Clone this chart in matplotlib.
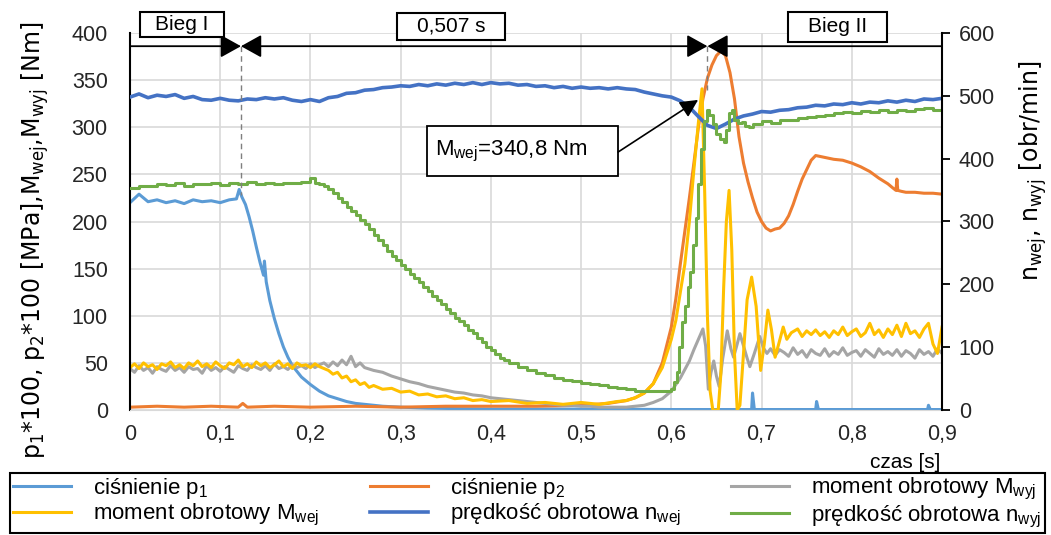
import numpy as np
import matplotlib
matplotlib.use('Agg')
import matplotlib.pyplot as plt
from matplotlib.patches import Rectangle

plt.rcParams['font.family'] = ['Liberation Sans', 'DejaVu Sans']
plt.rcParams['mathtext.default'] = 'regular'

# ---------------- data ----------------
x_ticks = [0, 0.1, 0.2, 0.3, 0.4, 0.5, 0.6, 0.7, 0.8, 0.9]
x_tick_labels = ['0', '0,1', '0,2', '0,3', '0,4', '0,5', '0,6', '0,7', '0,8', '0,9']
y_left_ticks = [0, 50, 100, 150, 200, 250, 300, 350, 400]
y_right_ticks = [0, 100, 200, 300, 400, 500, 600]

# p1*100 [MPa]
p1_t = [0, 0.01, 0.02, 0.03, 0.04, 0.05, 0.06, 0.07, 0.08, 0.09,
        0.10, 0.11, 0.118, 0.121, 0.124, 0.128, 0.132, 0.136, 0.14, 0.144,
        0.148, 0.149, 0.151, 0.155, 0.16, 0.165, 0.17, 0.175, 0.18, 0.19,
        0.20, 0.21, 0.22, 0.23, 0.24, 0.25, 0.26, 0.28, 0.30, 0.33,
        0.36, 0.40, 0.45, 0.50, 0.60, 0.689, 0.690, 0.692, 0.760, 0.761,
        0.763, 0.884, 0.885, 0.887, 0.90]
p1_v = [220, 229, 221, 223, 220, 222, 219, 223, 221, 222,
        220, 223, 224, 234, 226, 218, 205, 190, 173, 157,
        143, 158, 136, 116, 97, 81, 67, 56, 47, 35,
        27, 20, 15, 12, 9, 7, 6, 4, 3, 2,
        1.5, 1, 1, 1, 0.5, 0.5, 18, 0.5, 0.5, 9,
        0.5, 0.5, 5, 0.5, 0.5]

# p2*100 [MPa]
p2_t = [0, 0.03, 0.06, 0.09, 0.12, 0.125, 0.13, 0.16, 0.2, 0.25,
        0.3, 0.35, 0.4, 0.45, 0.5, 0.53, 0.55, 0.56, 0.57, 0.58,
        0.59, 0.60, 0.605, 0.61, 0.615, 0.62, 0.625, 0.63, 0.635, 0.64,
        0.645, 0.65, 0.655, 0.66, 0.665, 0.67, 0.675, 0.68, 0.685, 0.69,
        0.695, 0.70, 0.705, 0.71, 0.715, 0.72, 0.725, 0.73, 0.735, 0.74,
        0.745, 0.75, 0.755, 0.76, 0.765, 0.77, 0.78, 0.79, 0.80, 0.81,
        0.82, 0.83, 0.84, 0.845, 0.849, 0.850, 0.851, 0.855, 0.86, 0.87,
        0.88, 0.89, 0.90]
p2_v = [3, 4, 3, 4, 3, 7, 3, 4, 3, 4,
        3, 4, 4, 4, 5, 7, 10, 13, 18, 28,
        50, 88, 118, 155, 190, 225, 262, 300, 330, 352,
        366, 376, 381, 376, 358, 330, 290, 262, 242, 225,
        210, 200, 193, 190, 192, 193, 198, 206, 218, 232,
        245, 255, 265, 270, 269, 268, 266, 265, 262, 258,
        253, 246, 240, 236, 233, 245, 233, 232, 231, 231,
        230, 230, 229]

# M_wyj [Nm]
mwyj_t = [0.000, 0.005, 0.010, 0.015, 0.020, 0.025, 0.030, 0.035, 0.040, 0.045,
          0.050, 0.055, 0.060, 0.065, 0.070, 0.075, 0.080, 0.085, 0.090, 0.095,
          0.100, 0.105, 0.110, 0.115, 0.120, 0.125, 0.130, 0.135, 0.140, 0.145,
          0.150, 0.155, 0.160, 0.165, 0.170, 0.175, 0.180, 0.185, 0.190, 0.195,
          0.200, 0.205, 0.210, 0.215, 0.220, 0.225, 0.230, 0.235, 0.240, 0.245,
          0.250, 0.255, 0.260, 0.270, 0.280, 0.290, 0.300, 0.310, 0.320, 0.330,
          0.340, 0.350, 0.360, 0.370, 0.380, 0.390, 0.400, 0.410, 0.420, 0.430,
          0.440, 0.450, 0.460, 0.470, 0.480, 0.490, 0.500, 0.510, 0.520, 0.530,
          0.540, 0.550, 0.560, 0.570, 0.580, 0.590, 0.600, 0.610, 0.620, 0.625,
          0.630, 0.635, 0.638, 0.641, 0.644, 0.647, 0.650, 0.653, 0.657, 0.662,
          0.666, 0.669, 0.673, 0.676, 0.680, 0.684, 0.687, 0.692, 0.698, 0.702,
          0.706, 0.710, 0.715, 0.720, 0.725, 0.730, 0.735, 0.740, 0.745, 0.750,
          0.755, 0.760, 0.765, 0.770, 0.775, 0.780, 0.785, 0.790, 0.795, 0.800,
          0.805, 0.810, 0.815, 0.820, 0.825, 0.830, 0.835, 0.840, 0.845, 0.850,
          0.855, 0.860, 0.865, 0.870, 0.875, 0.880, 0.885, 0.890, 0.895, 0.900]
mwyj_v = [44, 40, 47, 42, 45, 39, 46, 43, 41, 47,
          42, 45, 40, 46, 43, 44, 39, 47, 42, 45,
          41, 46, 43, 40, 47, 44, 42, 48, 45, 43,
          47, 42, 49, 44, 46, 43, 48, 45, 47, 44,
          49, 45, 48, 50, 46, 51, 47, 53, 48, 57,
          46, 50, 45, 42, 40, 36, 33, 30, 28, 25,
          23, 21, 19, 18, 16, 15, 13, 12, 11, 10,
          9, 8, 7, 6, 5, 5, 4, 4, 3, 3,
          3, 3, 4, 5, 8, 12, 20, 34, 52, 64,
          75, 86, 68, 22, 40, 52, 36, 25, 55, 84,
          65, 56, 70, 81, 68, 55, 46, 60, 78, 66,
          60, 65, 58, 64, 61, 57, 66, 59, 63, 56,
          64, 60, 58, 65, 57, 62, 59, 66, 58, 61,
          63, 57, 64, 60, 56, 65, 59, 62, 58, 64,
          57, 63, 60, 55, 64, 59, 62, 57, 65, 60]

# M_wej [Nm]
mwej_t = [0.000, 0.005, 0.010, 0.015, 0.020, 0.025, 0.030, 0.035, 0.040, 0.045,
          0.050, 0.055, 0.060, 0.065, 0.070, 0.075, 0.080, 0.085, 0.090, 0.095,
          0.100, 0.105, 0.110, 0.115, 0.120, 0.125, 0.130, 0.135, 0.140, 0.145,
          0.150, 0.155, 0.160, 0.165, 0.170, 0.175, 0.180, 0.185, 0.190, 0.195,
          0.200, 0.205, 0.210, 0.215, 0.220, 0.225, 0.230, 0.235, 0.240, 0.245,
          0.250, 0.255, 0.260, 0.265, 0.270, 0.280, 0.290, 0.300, 0.310, 0.320,
          0.330, 0.340, 0.350, 0.360, 0.370, 0.380, 0.390, 0.400, 0.420, 0.440,
          0.460, 0.480, 0.500, 0.520, 0.540, 0.550, 0.560, 0.570, 0.580, 0.590,
          0.600, 0.605, 0.610, 0.615, 0.620, 0.625, 0.630, 0.634, 0.637, 0.640,
          0.643, 0.646, 0.652, 0.655, 0.658, 0.661, 0.664, 0.667, 0.670, 0.673,
          0.676, 0.680, 0.684, 0.689, 0.694, 0.699, 0.703, 0.707, 0.711, 0.715,
          0.719, 0.724, 0.728, 0.733, 0.740, 0.745, 0.750, 0.755, 0.760, 0.765,
          0.770, 0.775, 0.780, 0.785, 0.790, 0.795, 0.800, 0.805, 0.810, 0.815,
          0.820, 0.825, 0.830, 0.835, 0.840, 0.845, 0.850, 0.855, 0.860, 0.865,
          0.870, 0.875, 0.880, 0.885, 0.890, 0.895, 0.900]
mwej_v = [45, 49, 44, 50, 46, 48, 43, 49, 47, 51,
          45, 48, 44, 50, 47, 52, 46, 49, 45, 51,
          47, 44, 50, 48, 53, 46, 49, 45, 51, 47,
          50, 45, 48, 52, 46, 49, 44, 50, 47, 48,
          45, 49, 46, 44, 42, 38, 40, 34, 36, 30,
          32, 27, 29, 24, 26, 22, 23, 19, 20, 16,
          17, 14, 15, 12, 13, 10, 11, 9, 10, 7,
          8, 6, 8, 6, 9, 10, 13, 18, 28, 45,
          75, 95, 125, 155, 200, 255, 305, 340.8, 230, 100,
          20, 0, 0, 40, 130, 200, 233, 170, 60, 0,
          5, 60, 117, 141, 110, 42, 70, 106, 85, 56,
          70, 88, 75, 82, 86, 78, 84, 80, 85, 79,
          83, 77, 84, 80, 88, 79, 83, 86, 78, 82,
          92, 80, 85, 77, 86, 80, 90, 78, 92, 81,
          84, 77, 86, 92, 70, 60, 88]

# n_wej [obr/min]
nwej_t = [0.00, 0.01, 0.02, 0.03, 0.04, 0.05, 0.06, 0.07, 0.08, 0.09,
          0.10, 0.11, 0.12, 0.13, 0.14, 0.15, 0.16, 0.17, 0.18, 0.19,
          0.20, 0.21, 0.22, 0.23, 0.24, 0.25, 0.26, 0.27, 0.28, 0.29,
          0.30, 0.31, 0.32, 0.33, 0.34, 0.35, 0.36, 0.37, 0.38, 0.39,
          0.40, 0.41, 0.42, 0.43, 0.44, 0.45, 0.46, 0.47, 0.48, 0.49,
          0.50, 0.51, 0.52, 0.53, 0.54, 0.55, 0.56, 0.57, 0.58, 0.59,
          0.60, 0.61, 0.62, 0.63, 0.64, 0.65, 0.66, 0.67, 0.68, 0.69,
          0.70, 0.71, 0.72, 0.73, 0.74, 0.75, 0.76, 0.77, 0.78, 0.79,
          0.80, 0.81, 0.82, 0.83, 0.84, 0.85, 0.86, 0.87, 0.88, 0.89,
          0.90]
nwej_v = [498, 503, 497, 501, 499, 502, 496, 499, 494, 493,
          496, 493, 492, 495, 494, 497, 495, 497, 493, 491,
          494, 491, 497, 499, 504, 505, 509, 510, 513, 514,
          516, 515, 518, 516, 519, 517, 520, 518, 521, 518,
          521, 519, 520, 517, 518, 515, 516, 513, 515, 512,
          514, 512, 513, 511, 513, 511, 510, 506, 503, 500,
          498, 492, 482, 467, 453, 448, 455, 463, 468, 471,
          475, 474, 477, 478, 481, 482, 485, 484, 487, 486,
          489, 487, 490, 489, 492, 490, 493, 491, 495, 494,
          496]

# n_wyj [obr/min]
nwyj_t = [0.00, 0.01, 0.02, 0.03, 0.04, 0.05, 0.06, 0.07, 0.08, 0.09,
          0.10, 0.11, 0.12, 0.13, 0.14, 0.15, 0.16, 0.17, 0.18, 0.19,
          0.20, 0.205, 0.21, 0.215, 0.22, 0.225, 0.23, 0.235, 0.24, 0.245,
          0.25, 0.255, 0.26, 0.265, 0.27, 0.275, 0.28, 0.285, 0.29, 0.295,
          0.30, 0.305, 0.31, 0.315, 0.32, 0.325, 0.33, 0.335, 0.34, 0.345,
          0.35, 0.355, 0.36, 0.365, 0.37, 0.375, 0.38, 0.385, 0.39, 0.395,
          0.40, 0.405, 0.41, 0.415, 0.42, 0.43, 0.44, 0.45, 0.46, 0.47,
          0.48, 0.49, 0.50, 0.51, 0.52, 0.53, 0.54, 0.55, 0.56, 0.57,
          0.58, 0.59, 0.600, 0.603, 0.606, 0.609, 0.612, 0.615, 0.618, 0.621,
          0.624, 0.627, 0.630, 0.633, 0.636, 0.639, 0.642, 0.646, 0.650, 0.654,
          0.658, 0.661, 0.664, 0.667, 0.670, 0.674, 0.678, 0.682, 0.686, 0.690,
          0.70, 0.71, 0.72, 0.73, 0.74, 0.75, 0.76, 0.77, 0.78, 0.79,
          0.80, 0.81, 0.82, 0.83, 0.84, 0.85, 0.86, 0.87, 0.88, 0.89,
          0.90]
nwyj_v = [353, 357, 356, 359, 358, 362, 357, 360, 359, 361,
          358, 362, 360, 363, 359, 361, 360, 362, 361, 363,
          369, 362, 360, 356, 352, 346, 338, 331, 323, 316,
          310, 303, 296, 288, 279, 270, 262, 253, 245, 238,
          231, 224, 217, 210, 203, 196, 189, 182, 175, 168,
          161, 154, 147, 141, 135, 128, 122, 115, 108, 101,
          95, 89, 83, 79, 75, 69, 63, 59, 55, 51,
          48, 46, 43, 42, 40, 37, 35, 33, 31, 30,
          30, 30, 33, 45, 60, 100, 140, 165, 195, 220,
          262, 305, 360, 415, 460, 477, 470, 455, 440, 432,
          427, 445, 472, 477, 462, 456, 458, 452, 450, 455,
          460, 457, 462, 461, 465, 466, 468, 470, 472, 474,
          473, 476, 474, 477, 475, 478, 476, 479, 481, 478,
          480]

# annotation values
shift_t1 = 0.123
shift_t2 = 0.640
peak_label = 'M$_{wej}$=340,8 Nm'

labels = {
    'p1': 'ciśnienie p$_1$',
    'p2': 'ciśnienie p$_2$',
    'mwyj': 'moment obrotowy M$_{wyj}$',
    'mwej': 'moment obrotowy M$_{wej}$',
    'nwej': 'prędkość obrotowa n$_{wej}$',
    'nwyj': 'prędkość obrotowa n$_{wyj}$',
}
colors = {
    'p1': '#5B9BD5', 'p2': '#ED7D31', 'mwyj': '#A5A5A5',
    'mwej': '#FFC000', 'nwej': '#4472C4', 'nwyj': '#70AD47',
}

# ---------------- figure ----------------
W, H = 1051, 535
fig = plt.figure(figsize=(W / 100, H / 100), dpi=100)
ax = fig.add_axes([130 / W, 1 - 410 / H, 812 / W, 377 / H])
ax2 = ax.twinx()

lw = 2.2
l_p1, = ax.plot(p1_t, p1_v, color=colors['p1'], lw=lw)
l_p2, = ax.plot(p2_t, p2_v, color=colors['p2'], lw=lw)
l_mwyj, = ax.plot(mwyj_t, mwyj_v, color=colors['mwyj'], lw=lw)
l_mwej, = ax.plot(mwej_t, mwej_v, color=colors['mwej'], lw=lw)
l_nwej, = ax2.plot(nwej_t, nwej_v, color=colors['nwej'], lw=2.6)
l_nwyj, = ax2.plot(nwyj_t, nwyj_v, color=colors['nwyj'], lw=lw, drawstyle='steps-post')

ax.set_xlim(0, 0.9)
ax.set_ylim(0, 400)
ax.set_xticks(x_ticks)
ax.set_xticklabels(x_tick_labels)
ax.set_yticks(y_left_ticks)
ax.grid(True, color='#D9D9D9', lw=1.2)
ax.set_axisbelow(True)
ax.tick_params(axis='both', length=0, labelsize=15.5, labelcolor='#262626')
ax.tick_params(axis='y', pad=16)
ax.tick_params(axis='x', pad=10)
for s in ['top', 'right']:
    ax.spines[s].set_visible(False)
ax.spines['left'].set_color('black')
ax.spines['left'].set_linewidth(1.5)
ax.spines['bottom'].set_color('#D9D9D9')

for s in ['top', 'left', 'bottom']:
    ax2.spines[s].set_visible(False)
ax2.spines['right'].set_color('black')
ax2.spines['right'].set_linewidth(1.5)
ax2.set_yticks(y_right_ticks)
ax2.tick_params(axis='y', length=6, width=1.3, direction='out', pad=6,
                labelsize=15.5, labelcolor='#262626', color='black')

# ---- top arrows ----
y_arr = 386
apw = dict(color='black', lw=1.3, shrinkA=0, shrinkB=0, mutation_scale=14)
ax2.annotate('', xy=(shift_t1, y_arr), xytext=(0, y_arr), xycoords=ax.transData,
             textcoords=ax.transData,
             arrowprops=dict(arrowstyle='-|>,head_length=0.9,head_width=0.5', **apw))
ax2.annotate('', xy=(shift_t2, y_arr), xytext=(shift_t1, y_arr), xycoords=ax.transData,
             textcoords=ax.transData,
             arrowprops=dict(arrowstyle='<|-|>,head_length=0.9,head_width=0.5', **apw))
ax2.annotate('', xy=(shift_t2, y_arr), xytext=(0.9, y_arr), xycoords=ax.transData,
             textcoords=ax.transData,
             arrowprops=dict(arrowstyle='-|>,head_length=0.9,head_width=0.5', **apw))
ax2.plot([shift_t1, shift_t1], [y_arr, 228], transform=ax.transData,
         ls=(0, (4, 3)), color='#7F7F7F', lw=1)
ax2.plot([shift_t2, shift_t2], [y_arr, 340], transform=ax.transData,
         ls=(0, (4, 3)), color='#7F7F7F', lw=1)

# ---- peak annotation box ----
ax2.add_patch(Rectangle((0.329, 248), 0.212, 53, transform=ax.transData,
                        facecolor='white', edgecolor='black', lw=1.3, zorder=5))
ax2.text(0.338, 274.5, peak_label, transform=ax.transData, ha='left', va='center',
         fontsize=16, zorder=6)
ax2.annotate('', xy=(0.6297, 329), xytext=(0.541, 273.7), xycoords=ax.transData,
             textcoords=ax.transData,
             arrowprops=dict(arrowstyle='-|>,head_length=0.9,head_width=0.45',
                             color='black', lw=1.2, shrinkA=0, shrinkB=0,
                             mutation_scale=12), zorder=6)

ax2.set_ylim(0, 600)
ax.set_xlim(0, 0.9)


# ---- top boxes (figure coords) ----
def fig_box(x0, y0, x1, y1, txt):
    fig.add_artist(Rectangle((x0 / W, 1 - y1 / H), (x1 - x0) / W, (y1 - y0) / H,
                             transform=fig.transFigure, facecolor='white',
                             edgecolor='black', lw=1.5, zorder=10))
    fig.text((x0 + x1) / 2 / W, 1 - (y0 + y1) / 2 / H, txt, ha='center', va='center',
             fontsize=15, zorder=11)


fig_box(140, 12, 224, 37, 'Bieg I')
fig_box(397, 13, 505, 40, '0,507 s')
fig_box(788, 12, 887, 42, 'Bieg II')

# ---- axis labels ----
fig.text(35 / W, 1 - 240 / H,
         'p$_1$*100, p$_2$*100 [MPa],M$_{wej}$,M$_{wyj}$ [Nm]',
         rotation=90, ha='center', va='center', fontsize=17, family='DejaVu Sans')
fig.text(1033 / W, 1 - 171 / H, 'n$_{wej}$, n$_{wyj}$ [obr/min]',
         rotation=90, ha='center', va='center', fontsize=17, family='DejaVu Sans')
fig.text(940 / W, 1 - 462 / H, 'czas [s]', ha='right', va='center', fontsize=15)

# ---- legend ----
handles = [l_p1, l_mwej, l_p2, l_nwej, l_mwyj, l_nwyj]
keys = ['p1', 'mwej', 'p2', 'nwej', 'mwyj', 'nwyj']
leg = fig.legend(handles, [labels[k] for k in keys], loc='lower left',
                 bbox_to_anchor=(10 / W, 2 / H, 1035 / W, 55 / H), mode='expand',
                 ncol=3, frameon=True, fancybox=False, edgecolor='black',
                 framealpha=1, fontsize=16, handlelength=2.6, handletextpad=1.0,
                 borderaxespad=0, labelspacing=0.05, borderpad=0.15)
leg.get_frame().set_linewidth(1.5)

fig.savefig('out.png', dpi=100)
